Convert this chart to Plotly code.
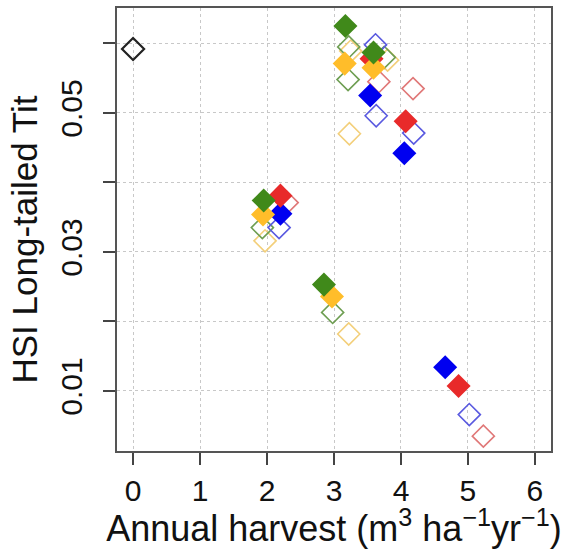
import plotly.graph_objects as go

# ---- data ----
blue_filled_x = [3.54, 4.05, 2.20, 4.66]
blue_filled_y = [0.0525, 0.0442, 0.0355, 0.0134]
blue_open_x = [3.62, 3.63, 4.19, 2.18, 5.02]
blue_open_y = [0.0598, 0.0496, 0.0471, 0.0335, 0.0066]

red_filled_x = [3.56, 4.07, 2.20, 4.86]
red_filled_y = [0.0578, 0.0488, 0.0381, 0.0107]
red_open_x = [3.67, 4.18, 2.30, 5.23]
red_open_y = [0.0545, 0.0535, 0.0371, 0.0035]

yellow_filled_x = [3.16, 3.59, 1.94, 2.97]
yellow_filled_y = [0.0571, 0.0565, 0.0354, 0.0236]
yellow_open_x = [3.25, 3.80, 3.23, 1.97, 3.22]
yellow_open_y = [0.0589, 0.0576, 0.0470, 0.0316, 0.0182]

green_filled_x = [3.17, 3.59, 1.95, 2.85]
green_filled_y = [0.0625, 0.0587, 0.0374, 0.0253]
green_open_x = [3.22, 3.75, 3.21, 1.93, 2.98]
green_open_y = [0.0595, 0.0580, 0.0548, 0.0335, 0.0213]

baseline_x = [0.0]
baseline_y = [0.0592]

x_ticks = [0, 1, 2, 3, 4, 5, 6]
y_label_ticks = [0.01, 0.03, 0.05]
y_label_text = ["0.01", "0.03", "0.05"]
y_minor_ticks = [0.02, 0.04, 0.06]

x_title = "Annual harvest (m<sup>3</sup> ha<sup>\u22121</sup>yr<sup>\u22121</sup>)"
y_title = "HSI Long-tailed Tit"

BLUE, RED, YELLOW, GREEN = "#0000f0", "#e82a2a", "#ffbd2a", "#40891a"
BLUE_L, RED_L, YELLOW_L, GREEN_L = "#5a5ae0", "#e07878", "#f3cf7a", "#6e9e52"

fig = go.Figure()

def open_trace(x, y, col, w=1.6):
    fig.add_trace(go.Scatter(x=x, y=y, mode="markers", showlegend=False,
                             marker=dict(symbol="diamond-open", size=17,
                                         color=col, line=dict(color=col, width=w))))

def filled_trace(x, y, col):
    fig.add_trace(go.Scatter(x=x, y=y, mode="markers", showlegend=False,
                             marker=dict(symbol="diamond", size=18.5, color=col,
                                         line=dict(width=0))))

open_trace(yellow_open_x, yellow_open_y, YELLOW_L)
open_trace(green_open_x, green_open_y, GREEN_L)
open_trace(red_open_x, red_open_y, RED_L)
open_trace(blue_open_x, blue_open_y, BLUE_L)
open_trace(baseline_x, baseline_y, "#222222", 2.2)
filled_trace(blue_filled_x, blue_filled_y, BLUE)
filled_trace(red_filled_x, red_filled_y, RED)
filled_trace(yellow_filled_x, yellow_filled_y, YELLOW)
filled_trace(green_filled_x, green_filled_y, GREEN)

font = "Liberation Sans, Arial, sans-serif"
grid = dict(showgrid=True, gridcolor="#c8c8c8", griddash="dot", gridwidth=1)
fig.update_layout(
    width=572, height=549,
    margin=dict(l=117, r=21, t=6, b=98),
    paper_bgcolor="white", plot_bgcolor="white",
    font=dict(family=font, color="#111111"),
    xaxis=dict(range=[-0.24, 6.24], tickvals=x_ticks, ticktext=[str(v) for v in x_ticks],
               **grid,
               zeroline=False, showline=True, mirror=True, linecolor="#555555", linewidth=2,
               ticks="outside", ticklen=12, tickcolor="#444444", tickwidth=1.5,
               tickfont=dict(size=30, family=font, color="#111111"),
               title=dict(text=x_title,
                          font=dict(size=36, family=font, color="#111111"), standoff=0)),
    yaxis=dict(range=[0.00136, 0.0651], tickvals=y_label_ticks, ticktext=y_label_text,
               **grid,
               minor=dict(tickvals=y_minor_ticks, ticks="outside", ticklen=12,
                          tickcolor="#444444", tickwidth=1.5, **grid),
               zeroline=False, showline=True, mirror=True, linecolor="#555555", linewidth=2,
               ticks="outside", ticklen=12, tickcolor="#444444", tickwidth=1.5,
               tickangle=-90, ticklabelstandoff=9,
               tickfont=dict(size=30, family=font, color="#111111")),
    annotations=[dict(text=y_title, textangle=-90, showarrow=False,
                      xref="paper", yref="paper", x=0, y=0.5,
                      xanchor="center", yanchor="middle", xshift=-93, yshift=-10,
                      font=dict(size=35, family=font, color="#111111"))],
)

fig.write_html("out.html", config={"displayModeBar": False},
               post_script="document.body.style.margin='0px';")
